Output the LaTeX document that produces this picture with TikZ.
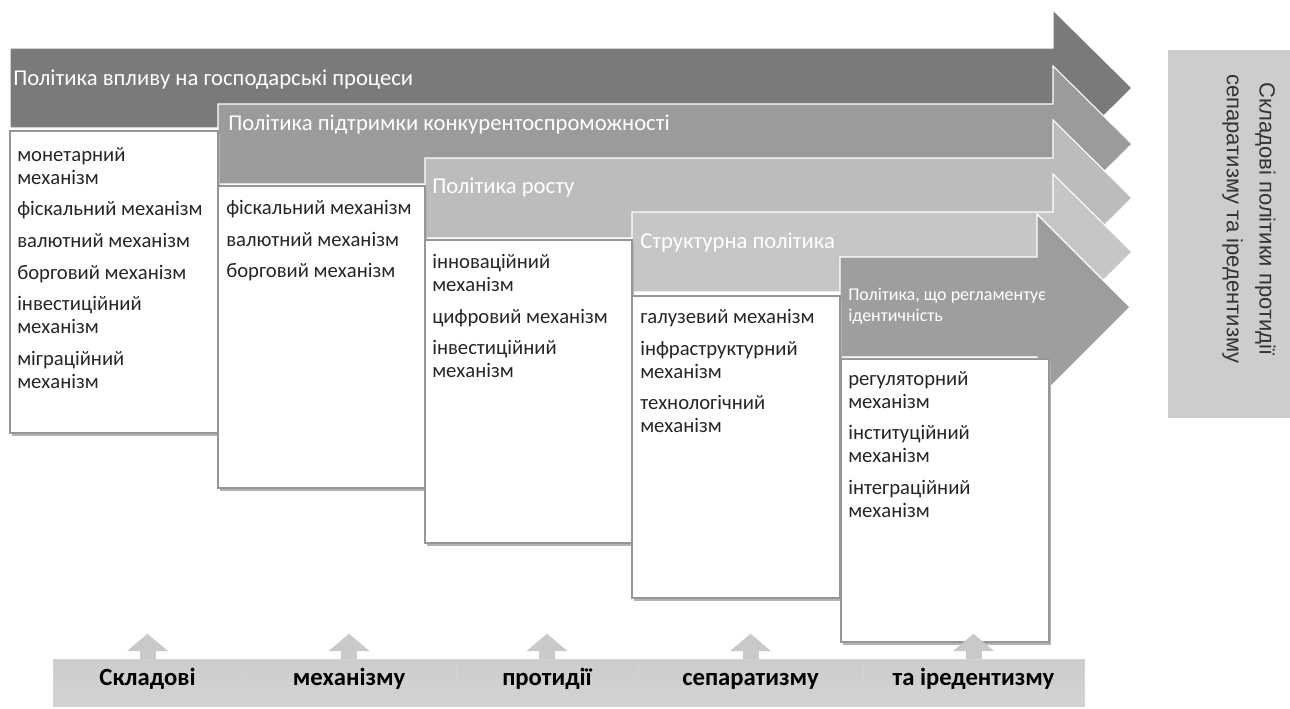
\documentclass[tikz,border=0pt]{standalone}
\usepackage{fontspec}
\setmainfont{Carlito}
\newfontfamily\sidefont{Liberation Sans}
\definecolor{stGrayA}{RGB}{122, 122, 122}
\definecolor{stGrayB}{RGB}{155, 155, 155}
\definecolor{stGrayC}{RGB}{188, 188, 188}
\definecolor{stGrayD}{RGB}{198, 198, 198}
\definecolor{stGrayE}{RGB}{158, 158, 158}
\definecolor{stSide}{RGB}{205, 205, 205}
\definecolor{stLine}{RGB}{150, 150, 150}
\definecolor{stBar}{RGB}{192, 192, 192}
\usetikzlibrary{arrows.meta}
\tikzset{
  stepband/.style={fill=#1, draw=white, line width=0.8pt},
  steptitle/.style={anchor=west, inner sep=0pt, text=white, font=\fontsize{17}{19}\selectfont},
  mechshadow/.style={fill=black!30},
  mechframe/.style={draw=stLine, fill=white, line width=0.9pt},
  mechlist/.style={anchor=north west, align=left, inner sep=0pt, text=black!85, font=\fontsize{15.5}{17.25}\selectfont},
  sidebox/.style={rectangle, fill=stSide, inner sep=0pt, minimum width=91.5pt, minimum height=276pt},
  sidetext/.style={rotate=-90, align=center, inner sep=0pt, text=black!80, font=\sidefont\fontsize{16.5}{24.5}\selectfont},
  barcell/.style={rectangle, inner sep=0pt, minimum height=35.25pt, text height=1.5ex, text depth=0.45ex, top color=stBar!80, bottom color=stBar!110!black, draw=stBar!70, font=\fontsize{18.5}{20}\bfseries\selectfont},
  upshaft/.style={-{Triangle[width=30pt, length=13pt]}, line width=12pt, stBar!85},
}
\begin{document}
\begin{tikzpicture}[x=0.75pt, y=-0.75pt]
  \useasboundingbox (0,0) rectangle (1290,708);

  % Policy arrows
  \filldraw[stepband=stGrayA] (10,48) -- (1053,48) -- (1053,10) -- (1132,88) -- (1053,166) -- (1053,128) -- (10,128) -- cycle;
  \filldraw[stepband=stGrayB] (218,104) -- (1053,104) -- (1053,66) -- (1132,144) -- (1053,222) -- (1053,184) -- (218,184) -- cycle;
  \filldraw[stepband=stGrayC] (425,158) -- (1053,158) -- (1053,120) -- (1132,198) -- (1053,276) -- (1053,238) -- (425,238) -- cycle;
  \filldraw[stepband=stGrayD] (632,212) -- (1053,212) -- (1053,174) -- (1132,252) -- (1053,330) -- (1053,292) -- (632,292) -- cycle;
  \filldraw[stepband=stGrayE] (840,257) -- (1037,257) -- (1037,214) -- (1130,307) -- (1037,400) -- (1037,357) -- (840,357) -- cycle;

  \node[steptitle] (t1) at (13,80) {Політика впливу на господарські процеси};
  \node[steptitle] (t2) at (228,125) {Політика підтримки конкурентоспроможності};
  \node[steptitle] (t3) at (432,188) {Політика росту};
  \node[steptitle] (t4) at (640,243) {Структурна політика};
  \node[steptitle, anchor=north west, align=left, font=\fontsize{13.5}{16}\selectfont] (t5) at (848,288) {Політика, що регламентує\\ідентичність};

  % Mechanism boxes
  \fill[mechshadow] (12,134) rectangle (220,436);
  \filldraw[mechframe] (10,131) rectangle (218,433);
  \fill[mechshadow] (220,189) rectangle (427,491);
  \filldraw[mechframe] (218,186) rectangle (425,488);
  \fill[mechshadow] (427,243) rectangle (634,546);
  \filldraw[mechframe] (425,240) rectangle (632,543);
  \fill[mechshadow] (634,299) rectangle (842,601);
  \filldraw[mechframe] (632,296) rectangle (840,598);
  \fill[mechshadow] (843,362) rectangle (1051,645);
  \filldraw[mechframe] (841,359) rectangle (1049,642);

  \node[mechlist] (m1) at (17,147) {монетарний\\механізм\\[6.5pt]фіскальний механізм\\[6.5pt]валютний механізм\\[6.5pt]борговий механізм\\[6.5pt]інвестиційний\\механізм\\[6.5pt]міграційний\\механізм};
  \node[mechlist] (m2) at (226,200) {фіскальний механізм\\[6.5pt]валютний механізм\\[6.5pt]борговий механізм};
  \node[mechlist] (m3) at (432,254) {інноваційний\\механізм\\[6.5pt]цифровий механізм\\[6.5pt]інвестиційний\\механізм};
  \node[mechlist] (m4) at (640,309) {галузевий механізм\\[6.5pt]інфраструктурний\\механізм\\[6.5pt]технологічний\\механізм};
  \node[mechlist] (m5) at (848,371) {регуляторний\\механізм\\[6.5pt]інституційний\\механізм\\[6.5pt]інтеграційний\\механізм};

  % Side caption
  \node[sidebox] (side) at (1229,234) {};
  \node[sidetext] (sidelbl) at (1249,219) {Складові політики протидії\\сепаратизму та іредентизму};

  % Bottom bar
  \node[barcell, minimum width=141.75pt] (s1) at (147.5,682.5) {Складові};
  \node[barcell, minimum width=160.5pt] (s2) at (349,682.5) {механізму};
  \node[barcell, minimum width=136.5pt] (s3) at (547,682.5) {протидії};
  \node[barcell, minimum width=168.75pt] (s4) at (750.5,682.5) {сепаратизму};
  \node[barcell, minimum width=165.75pt] (s5) at (973.5,682.5) {та іредентизму};

  \draw[upshaft] (s1.north) -- ++(0,-25);
  \draw[upshaft] (s2.north) -- ++(0,-25);
  \draw[upshaft] (s3.north) -- ++(0,-25);
  \draw[upshaft] (s4.north) -- ++(0,-25);
  \draw[upshaft] (s5.north) -- ++(0,-25);
\end{tikzpicture}
\end{document}
